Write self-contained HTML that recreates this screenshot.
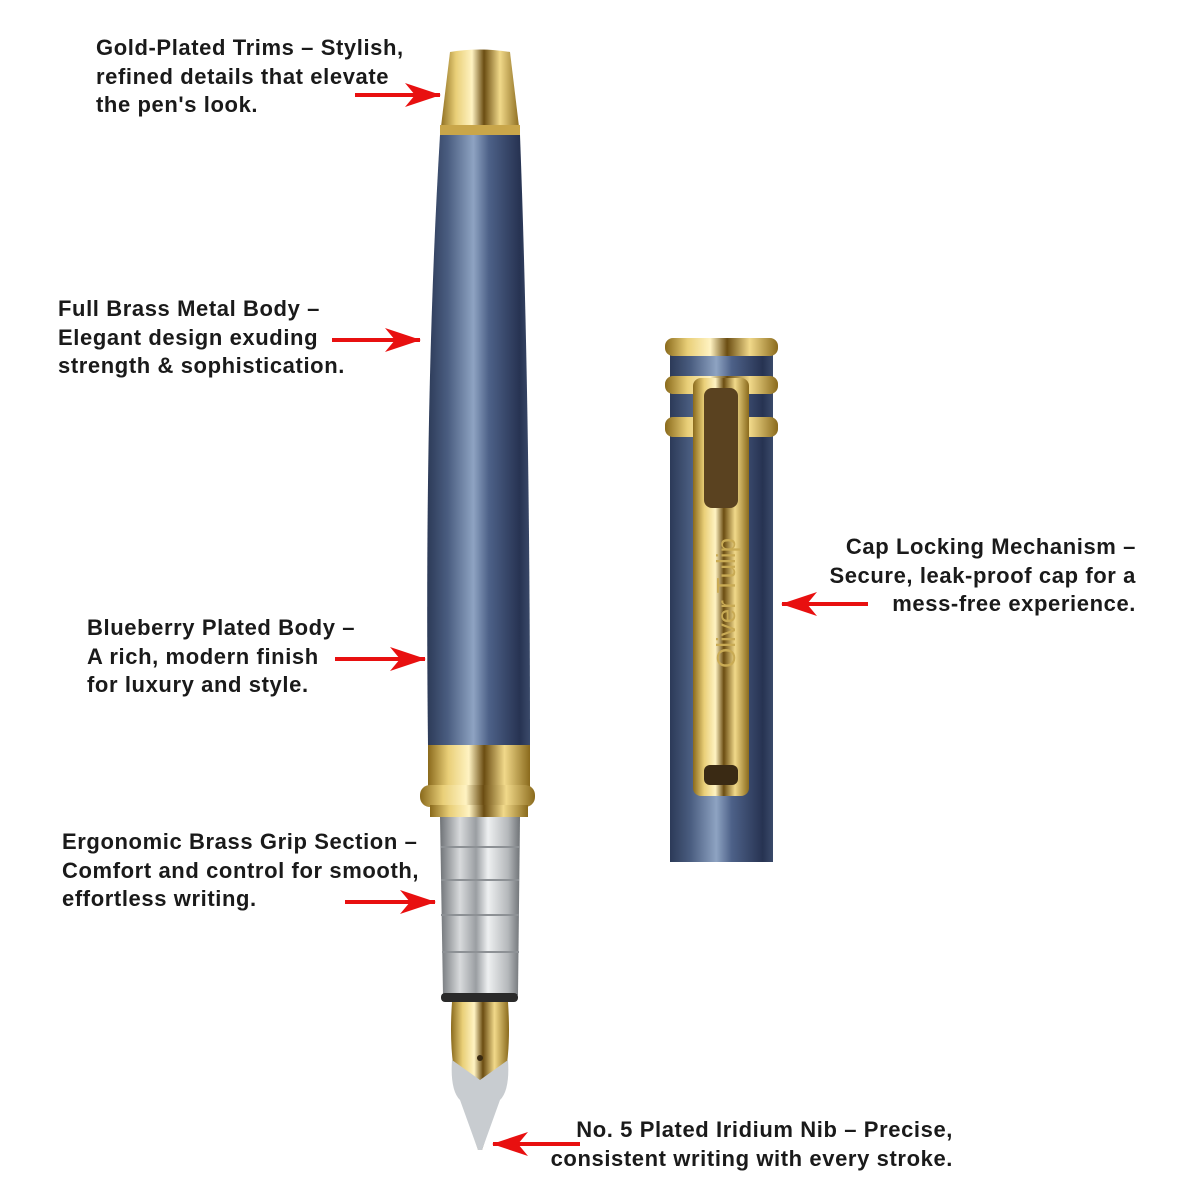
<!DOCTYPE html>
<html><head><meta charset="utf-8"><style>
body{margin:0;background:#fff;width:1200px;height:1200px;overflow:hidden;position:relative;font-family:"Liberation Sans",Arial,sans-serif}
.t{position:absolute;font-weight:bold;font-size:22px;letter-spacing:0.6px;line-height:28.5px;color:#1a1a1a;white-space:nowrap}
svg{position:absolute;left:0;top:0}
</style></head><body>
<svg width="1200" height="1200" viewBox="0 0 1200 1200">
<defs>
<linearGradient id="blue" x1="0" x2="1" y1="0" y2="0">
<stop offset="0" stop-color="#2c3a58"/><stop offset="0.2" stop-color="#4a5d80"/><stop offset="0.45" stop-color="#8ea3c2"/><stop offset="0.6" stop-color="#4d6188"/><stop offset="0.9" stop-color="#273352"/><stop offset="1" stop-color="#3a4a6a"/>
</linearGradient>
<linearGradient id="gold" x1="0" x2="1" y1="0" y2="0">
<stop offset="0" stop-color="#8a6a1c"/><stop offset="0.2" stop-color="#e9cf78"/><stop offset="0.4" stop-color="#fff3c2"/><stop offset="0.55" stop-color="#6b4d12"/><stop offset="0.75" stop-color="#f1d98a"/><stop offset="1" stop-color="#8a6a1c"/>
</linearGradient>
<linearGradient id="silver" x1="0" x2="1" y1="0" y2="0">
<stop offset="0" stop-color="#6f7377"/><stop offset="0.25" stop-color="#d8dadc"/><stop offset="0.45" stop-color="#9a9ea2"/><stop offset="0.6" stop-color="#eef0f1"/><stop offset="0.85" stop-color="#b5b8bb"/><stop offset="1" stop-color="#6f7377"/>
</linearGradient>
<marker id="ah" markerWidth="36" markerHeight="24" refX="35" refY="12" orient="auto" markerUnits="userSpaceOnUse" viewBox="0 0 36 24"><path d="M0,0 L36,12 L0,24 L10,12z" fill="#e81010"/></marker>
</defs>
<path d="M440,135 L520,135 Q530,400 530,745 L428,745 Q424,400 440,135z" fill="url(#blue)"/>
<path d="M450,52 Q480,47 510,52 L520,135 L440,135z" fill="url(#gold)"/>
<rect x="440" y="125" width="80" height="10" fill="#c9a64a"/>
<rect x="428" y="745" width="102" height="42" fill="url(#gold)"/>
<rect x="420" y="785" width="115" height="22" rx="10" fill="url(#gold)"/>
<rect x="430" y="805" width="98" height="12" fill="url(#gold)"/>
<path d="M440,817 L520,817 L518,995 L443,995z" fill="url(#silver)"/>
<g stroke="#8d9195" stroke-width="2"><line x1="441" y1="847" x2="519" y2="847"/><line x1="441" y1="880" x2="519" y2="880"/><line x1="441" y1="915" x2="519" y2="915"/><line x1="442" y1="952" x2="519" y2="952"/></g>
<rect x="441" y="993" width="77" height="9" rx="4" fill="#2a2a2a"/>
<path d="M452,1002 L508,1002 Q512,1060 500,1095 L482,1150 L478,1150 L460,1095 Q448,1060 452,1002z" fill="url(#gold)"/>
<path d="M452,1060 L480,1080 L508,1060 Q510,1090 500,1100 L482,1150 L478,1150 L460,1100 Q450,1090 452,1060z" fill="#c8ccd0"/>
<circle cx="480" cy="1058" r="3" fill="#3a2a10"/>
<rect x="670" y="345" width="103" height="517" fill="url(#blue)"/>
<rect x="665" y="338" width="113" height="18" rx="8" fill="url(#gold)"/>
<rect x="665" y="376" width="113" height="18" rx="8" fill="url(#gold)"/>
<rect x="665" y="417" width="113" height="20" rx="8" fill="url(#gold)"/>
<rect x="693" y="378" width="56" height="418" rx="8" fill="url(#gold)"/>
<rect x="704" y="388" width="34" height="120" rx="8" fill="#5a4220"/>
<rect x="704" y="765" width="34" height="20" rx="6" fill="#3a2a14"/>
<text transform="translate(735,668) rotate(-90)" font-family="Liberation Sans" font-size="26" fill="#c9ab55">Oliver Tulip</text>
<g stroke="#e81010" stroke-width="4" marker-end="url(#ah)">
<line x1="355" y1="95" x2="440" y2="95"/>
<line x1="332" y1="340" x2="420" y2="340"/>
<line x1="335" y1="659" x2="425" y2="659"/>
<line x1="345" y1="902" x2="435" y2="902"/>
<line x1="868" y1="604" x2="782" y2="604"/>
<line x1="580" y1="1144" x2="493" y2="1144"/>
</g>
</svg>
<div class="t" style="left:96px;top:34px">Gold-Plated Trims – Stylish,<br>refined details that elevate<br>the pen's look.</div>
<div class="t" style="left:58px;top:295px">Full Brass Metal Body –<br>Elegant design exuding<br>strength &amp; sophistication.</div>
<div class="t" style="left:87px;top:614px">Blueberry Plated Body –<br>A rich, modern finish<br>for luxury and style.</div>
<div class="t" style="left:62px;top:828px">Ergonomic Brass Grip Section –<br>Comfort and control for smooth,<br>effortless writing.</div>
<div class="t" style="right:64px;top:533px;text-align:right">Cap Locking Mechanism –<br>Secure, leak-proof cap for a<br>mess-free experience.</div>
<div class="t" style="right:247px;top:1116px;text-align:right">No. 5 Plated Iridium Nib – Precise,<br>consistent writing with every stroke.</div>
</body></html>
